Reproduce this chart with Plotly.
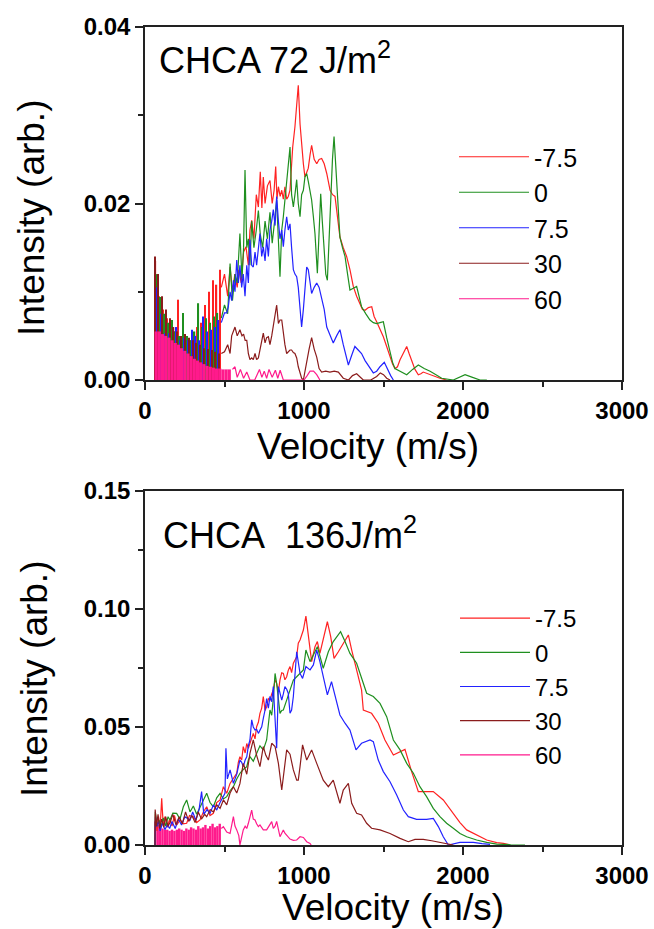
import plotly.graph_objects as go

# ---------------- data (velocity m/s, intensity in units of 1e-3 arb.) ----------------
SERIES = ["-7.5", "0", "7.5", "30", "60"]
COLORS = ["#ff2222", "#1f8f1f", "#2222ff", "#8b1c1c", "#ff1a8c"]

VEL_TICKS = [0, 1000, 2000, 3000]
VEL_MINOR = [500, 1500, 2500]
TOP_Y_TICKS = [0.0, 0.02, 0.04]
TOP_Y_LABELS = ["0.00", "0.02", "0.04"]
TOP_Y_MINOR = [0.01, 0.03]
BOT_Y_TICKS = [0.0, 0.05, 0.10, 0.15]
BOT_Y_LABELS = ["0.00", "0.05", "0.10", "0.15"]
BOT_Y_MINOR = [0.025, 0.075, 0.125]

# ---- top panel (72 J/m2): dense low-velocity spikes ----
T_RED_SPIKES = [(66, 13.5), (90, 9.5), (114, 8.0), (138, 7.0), (162, 6.5), (186, 5.5), (210, 9.1), (234, 5.0),
                (258, 4.8), (282, 4.5), (306, 5.2), (330, 6.0), (354, 6.5), (378, 8.5), (402, 10.0), (426, 11.3),
                (450, 10.8), (474, 12.5)]
T_GRN_SPIKES = [(72, 12.0), (96, 9.4), (120, 7.5), (144, 6.5), (168, 6.8), (192, 5.5), (216, 5.0), (240, 7.6),
                (264, 5.0), (288, 4.5), (312, 5.5), (336, 8.7), (360, 6.0), (384, 7.0), (408, 6.5), (432, 7.2),
                (456, 7.6)]
T_BLU_SPIKES = [(78, 10.5), (102, 7.5), (126, 5.3), (150, 5.3), (174, 5.3), (198, 6.0), (222, 4.5), (246, 4.8),
                (270, 4.5), (294, 5.7), (318, 5.0), (342, 4.5), (366, 7.2), (390, 5.5), (414, 5.7), (438, 6.0),
                (462, 6.8)]
T_MAR_SPIKES = [(63, 14.0), (84, 12.0), (108, 9.5), (132, 8.0), (156, 7.0), (180, 6.0), (204, 5.5), (228, 5.0),
                (252, 5.2), (276, 4.8), (300, 4.5), (324, 4.2), (348, 4.0), (372, 3.6), (396, 3.5), (420, 3.4),
                (444, 3.2), (468, 3.0)]
T_PNK_SPIKES = [(70, 5.5), (90, 5.5), (110, 5.2), (130, 5.0), (150, 4.8), (170, 4.5), (190, 4.2), (210, 4.0),
                (230, 3.6), (250, 3.3), (270, 3.0), (290, 2.7), (310, 2.4), (330, 2.2), (350, 2.0), (370, 1.8),
                (390, 1.6), (410, 1.5), (430, 1.4), (450, 1.3), (470, 1.3), (490, 1.2), (510, 1.2), (530, 1.2)]

# ---- top panel: resolved part ----
T_RED = [(480, 10.5), (500, 12.0), (520, 9.5), (535, 12.8), (550, 10.0), (565, 12.0), (580, 10.5), (590, 12.5),
         (605, 11.0), (620, 14.5), (635, 15.1), (650, 13.0), (660, 17.0), (671, 18.1), (685, 16.0), (700, 21.0),
         (713, 19.6), (725, 23.6), (735, 19.5), (744, 23.0), (755, 20.0), (770, 22.0), (786, 22.6), (800, 20.0),
         (812, 21.5), (822, 24.2), (830, 20.5), (839, 21.9), (850, 20.8), (860, 21.5), (870, 20.5), (880, 21.9),
         (891, 20.5), (901, 20.8), (912, 21.5), (922, 24.0), (929, 26.4), (943, 28.7), (954, 31.0), (964, 33.4),
         (975, 29.0), (985, 26.4), (996, 24.5), (1006, 23.0), (1017, 23.5), (1027, 24.0), (1038, 25.5),
         (1048, 26.6), (1064, 25.0), (1080, 24.5), (1095, 25.0), (1111, 25.1), (1127, 24.5), (1143, 23.4),
         (1164, 21.5), (1180, 21.0), (1195, 20.8), (1216, 18.1), (1226, 16.2), (1247, 15.0), (1268, 14.0),
         (1289, 12.5), (1310, 10.6), (1331, 9.5), (1352, 8.7), (1368, 8.0), (1384, 7.9), (1405, 8.2), (1426, 8.3),
         (1441, 7.2), (1457, 6.6), (1478, 5.8), (1499, 4.9), (1520, 3.8), (1541, 2.6), (1557, 1.8), (1572, 1.3),
         (1588, 1.5), (1604, 2.3), (1625, 3.0), (1646, 3.8), (1661, 3.0), (1677, 2.3), (1698, 1.2), (1719, 0.6),
         (1735, 0.7), (1750, 0.9), (1777, 0.7), (1803, 0.6), (1830, 0.4), (1855, 0.2), (1897, 0.0)]
T_GRN = [(480, 7.0), (500, 8.5), (520, 7.5), (535, 13.2), (550, 9.0), (566, 12.0), (580, 11.0), (597, 16.6),
         (610, 11.5), (620, 15.0), (629, 23.8), (640, 15.0), (650, 16.0), (660, 13.0), (671, 18.0), (685, 15.0),
         (700, 17.0), (713, 19.2), (725, 16.5), (740, 15.0), (755, 18.0), (770, 16.0), (786, 19.0), (800, 15.5),
         (815, 18.0), (828, 20.4), (849, 11.7), (860, 17.0), (870, 18.5), (880, 20.5), (891, 22.3), (901, 24.5),
         (912, 26.4), (922, 21.0), (933, 19.6), (943, 21.0), (954, 22.7), (964, 20.0), (975, 18.5), (985, 21.0),
         (996, 21.5), (1006, 23.0), (1017, 23.4), (1027, 22.5), (1038, 21.5), (1048, 20.4), (1059, 18.5),
         (1069, 16.6), (1084, 12.1), (1095, 17.0), (1105, 21.1), (1115, 18.0), (1126, 14.5), (1137, 12.0),
         (1147, 11.3), (1157, 16.0), (1168, 21.1), (1179, 25.0), (1189, 27.6), (1200, 24.0), (1210, 21.1),
         (1226, 16.2), (1242, 15.0), (1258, 14.0), (1274, 12.0), (1289, 10.2), (1310, 10.4), (1331, 10.6),
         (1346, 9.5), (1362, 8.3), (1389, 7.5), (1415, 6.8), (1436, 6.5), (1457, 6.4), (1478, 6.5), (1499, 6.6),
         (1520, 4.8), (1541, 3.0), (1557, 2.0), (1572, 1.3), (1610, 0.9), (1646, 0.6), (1683, 1.2), (1719, 1.7),
         (1756, 1.3), (1793, 1.0), (1830, 0.6), (1866, 0.2), (1939, 0.0), (1975, 0.3), (2013, 0.6), (2060, 0.3),
         (2107, 0.0), (2150, 0.0)]
T_BLU = [(480, 6.5), (500, 7.6), (514, 7.6), (524, 8.3), (535, 10.0), (545, 9.0), (556, 11.3), (566, 10.0),
         (577, 13.6), (587, 11.0), (597, 13.0), (608, 10.5), (618, 12.0), (629, 9.5), (640, 13.0), (650, 11.0),
         (660, 15.9), (671, 13.0), (681, 12.8), (692, 14.5), (702, 13.0), (713, 15.0), (723, 16.6), (734, 14.0),
         (744, 15.1), (755, 13.5), (765, 16.0), (776, 14.0), (786, 17.0), (797, 18.0), (807, 19.3), (818, 17.5),
         (828, 20.8), (839, 18.0), (849, 16.0), (860, 17.0), (870, 15.1), (880, 17.0), (891, 18.5), (901, 17.0),
         (912, 17.7), (922, 15.0), (933, 12.5), (943, 12.0), (954, 11.7), (964, 10.5), (975, 8.5), (985, 6.0),
         (996, 8.0), (1006, 10.2), (1017, 12.8), (1027, 12.5), (1038, 11.0), (1048, 9.8), (1064, 10.5),
         (1080, 11.0), (1095, 10.5), (1111, 9.4), (1127, 8.0), (1143, 6.0), (1164, 5.0), (1184, 4.2), (1205, 5.0),
         (1226, 5.7), (1247, 4.0), (1263, 2.8), (1279, 1.7), (1300, 2.8), (1320, 3.8), (1341, 3.4), (1362, 3.0),
         (1384, 2.2), (1410, 1.5), (1436, 0.8), (1457, 1.0), (1478, 1.5), (1505, 2.0), (1530, 1.0), (1545, 0.5),
         (1562, 0.0)]
T_MAR = [(480, 3.0), (500, 3.2), (520, 4.0), (535, 3.0), (545, 5.0), (566, 6.0), (580, 5.0), (597, 5.7),
         (610, 5.0), (620, 5.2), (630, 4.5), (640, 4.5), (650, 3.0), (660, 2.3), (671, 2.5), (681, 2.3), (692, 3.0),
         (702, 2.3), (713, 2.5), (723, 3.5), (734, 4.5), (744, 5.3), (755, 4.2), (765, 4.8), (776, 4.9), (786, 4.0),
         (797, 5.0), (807, 6.0), (818, 7.5), (828, 8.5), (839, 6.4), (849, 6.8), (860, 6.8), (870, 5.2), (880, 4.0),
         (891, 3.0), (901, 3.2), (912, 3.4), (922, 3.4), (933, 3.1), (943, 3.0), (954, 2.5), (964, 1.5), (975, 0.8),
         (985, 0.2), (996, 0.0), (1006, 1.0), (1017, 2.3), (1032, 3.5), (1048, 4.8), (1064, 3.5), (1080, 2.6),
         (1095, 1.3), (1111, 0.9), (1137, 1.0), (1163, 0.9), (1190, 1.0), (1216, 0.9), (1235, 0.4), (1247, 0.2),
         (1280, 0.0), (1305, 0.5), (1331, 0.7), (1352, 0.3), (1373, 0.0), (1420, 0.0), (1457, 0.4), (1480, 0.8),
         (1500, 0.6), (1520, 0.2), (1541, 0.0)]
T_PNK = [(550, 1.2), (566, 1.5), (580, 0.3), (600, 1.2), (620, 0.2), (640, 0.9), (660, 0.0), (690, 0.0),
         (705, 0.6), (720, 1.2), (735, 0.3), (750, 1.0), (765, 0.2), (780, 1.2), (800, 0.3), (820, 1.1), (835, 0.2),
         (850, 1.1), (870, 0.0), (1000, 0.0), (1020, 0.5), (1038, 1.0), (1060, 1.0), (1080, 0.6), (1100, 0.0)]

# ---- bottom panel (136 J/m2) ----
B_PNK_SPIKES = [(65, 10.0), (80, 8.5), (95, 7.5), (110, 7.0), (125, 6.5), (140, 6.5), (155, 6.0), (170, 6.5),
                (185, 6.0), (200, 6.5), (215, 7.0), (230, 6.5), (245, 6.0), (260, 7.0), (275, 6.5), (290, 7.5),
                (305, 7.0), (320, 6.5), (335, 8.0), (350, 7.0), (365, 7.5), (380, 8.5), (395, 7.0), (410, 8.0),
                (425, 9.0), (440, 7.5), (455, 8.0), (470, 9.0)]
B_RED = [(63, 0.0), (66, 13.0), (75, 6.0), (85, 12.0), (95, 7.0), (105, 19.8), (115, 8.0), (125, 12.0), (140, 7.5),
         (155, 11.0), (170, 8.0), (185, 12.5), (200, 8.5), (220, 10.6), (240, 9.0), (262, 9.2), (280, 12.5),
         (304, 12.0), (325, 9.5), (346, 10.6), (367, 14.0), (388, 16.2), (409, 12.5), (430, 13.4), (451, 18.0),
         (472, 19.1), (493, 24.7), (514, 21.9), (535, 26.1), (556, 28.5), (577, 30.4), (587, 35.0), (597, 37.4),
         (608, 36.0), (618, 41.7), (630, 39.0), (640, 43.0), (650, 41.0), (660, 43.1), (671, 46.0), (681, 47.3),
         (692, 45.0), (702, 50.1), (713, 52.0), (723, 55.8), (734, 58.0), (744, 62.9), (755, 57.0), (765, 58.6),
         (776, 62.0), (786, 61.4), (797, 64.0), (807, 65.7), (818, 70.0), (828, 68.5), (839, 65.0), (849, 70.0),
         (860, 73.0), (870, 72.7), (880, 70.0), (891, 71.3), (901, 74.0), (912, 75.6), (922, 73.0), (933, 77.0),
         (954, 79.8), (964, 85.5), (975, 86.9), (996, 91.1), (1012, 97.0), (1033, 85.5), (1048, 77.7), (1069, 84.0),
         (1084, 86.2), (1100, 81.2), (1121, 86.9), (1147, 94.6), (1168, 88.3), (1189, 79.1), (1216, 81.9),
         (1247, 85.5), (1279, 89.0), (1300, 82.6), (1331, 74.2), (1362, 65.7), (1373, 57.2), (1425, 55.8),
         (1467, 51.6), (1509, 44.5), (1562, 38.1), (1604, 39.5), (1635, 40.5), (1677, 31.1), (1719, 22.6),
         (1750, 22.6), (1813, 22.6), (1876, 19.1), (1939, 13.4), (1981, 9.5), (2023, 6.4), (2086, 4.2), (2149, 2.1),
         (2212, 1.0), (2254, 0.7), (2296, 0.0)]
B_GRN = [(63, 0.0), (65, 14.1), (75, 8.0), (88, 10.5), (100, 7.5), (115, 11.5), (130, 8.0), (145, 12.0),
         (157, 10.6), (175, 13.5), (199, 13.4), (220, 11.0), (241, 16.2), (262, 19.1), (283, 14.0), (304, 16.5),
         (325, 13.0), (346, 16.2), (367, 19.0), (388, 21.9), (409, 18.0), (430, 16.2), (451, 20.0), (472, 21.9),
         (493, 19.5), (514, 20.5), (535, 23.0), (556, 24.7), (577, 28.0), (597, 30.4), (618, 32.0), (640, 33.2),
         (650, 36.0), (660, 37.4), (681, 35.5), (702, 38.8), (723, 42.0), (744, 40.3), (765, 44.5), (786, 57.2),
         (797, 55.0), (807, 62.0), (818, 72.7), (828, 68.5), (839, 60.0), (849, 55.8), (860, 57.0), (870, 57.2),
         (891, 61.4), (912, 65.7), (933, 69.9), (954, 71.3), (975, 73.0), (996, 74.2), (1012, 82.6), (1038, 77.7),
         (1069, 81.9), (1084, 84.0), (1121, 74.9), (1153, 81.9), (1184, 86.2), (1230, 90.4), (1258, 86.2),
         (1289, 81.2), (1331, 77.0), (1373, 68.5), (1394, 64.3), (1436, 62.9), (1478, 60.0), (1520, 54.4),
         (1562, 44.5), (1604, 40.3), (1646, 34.6), (1688, 30.4), (1729, 24.7), (1771, 20.5), (1813, 15.5),
         (1855, 12.0), (1897, 9.2), (1939, 7.1), (1981, 4.9), (2023, 3.5), (2086, 2.1), (2149, 1.1), (2212, 0.4),
         (2300, 0.1), (2390, 0.0)]
B_BLU = [(63, 0.0), (66, 12.0), (73, 7.8), (85, 10.0), (95, 6.0), (110, 9.5), (125, 6.5), (140, 8.5), (155, 7.0),
         (170, 10.0), (190, 7.0), (210, 11.0), (230, 8.5), (250, 12.0), (283, 10.6), (300, 14.0), (320, 10.5),
         (340, 15.0), (356, 22.6), (370, 13.0), (390, 15.0), (409, 13.4), (430, 17.0), (451, 14.8), (472, 18.0),
         (482, 19.1), (503, 21.9), (509, 41.0), (518, 28.0), (535, 31.8), (545, 29.0), (556, 26.1), (577, 30.0),
         (597, 36.0), (608, 35.0), (618, 33.2), (630, 36.0), (640, 37.4), (650, 42.0), (660, 44.5), (671, 53.0),
         (681, 50.0), (692, 48.7), (702, 49.0), (713, 47.3), (723, 49.0), (734, 50.1), (745, 54.0), (755, 57.2),
         (765, 62.0), (776, 58.0), (786, 63.0), (797, 60.7), (807, 67.1), (818, 55.0), (828, 41.0), (839, 67.1),
         (849, 64.0), (860, 61.4), (870, 64.0), (880, 67.1), (891, 66.0), (901, 64.3), (912, 55.8), (922, 57.2),
         (933, 62.9), (954, 81.9), (975, 72.7), (991, 70.6), (1012, 75.6), (1038, 74.2), (1059, 76.3), (1080, 82.6),
         (1100, 77.7), (1121, 71.3), (1147, 63.6), (1173, 69.2), (1195, 62.9), (1226, 55.1), (1258, 51.6),
         (1289, 48.7), (1327, 40.3), (1362, 43.1), (1415, 44.5), (1436, 43.8), (1467, 36.0), (1499, 31.1),
         (1541, 26.8), (1583, 21.2), (1625, 14.8), (1656, 12.0), (1708, 10.9), (1771, 10.9), (1813, 11.3),
         (1845, 7.8), (1876, 3.5), (1908, 0.0), (1981, 1.1), (2065, 1.1), (2120, 0.6), (2170, 0.3)]
B_MAR = [(63, 0.0), (64, 15.0), (72, 8.0), (82, 13.0), (92, 7.0), (105, 11.0), (118, 7.5), (130, 12.0), (145, 8.0),
         (160, 10.0), (175, 13.0), (195, 8.5), (215, 12.0), (235, 9.0), (255, 14.0), (275, 10.0), (295, 12.5),
         (315, 9.5), (335, 14.0), (355, 11.0), (375, 13.0), (388, 12.0), (410, 15.0), (430, 14.0), (451, 17.0),
         (472, 15.5), (493, 19.1), (514, 17.0), (535, 22.0), (556, 24.7), (577, 22.0), (597, 26.0), (618, 34.6),
         (640, 30.0), (660, 38.8), (681, 44.5), (702, 38.0), (723, 33.2), (744, 41.7), (760, 38.0), (776, 36.0),
         (797, 43.1), (818, 41.7), (839, 34.6), (860, 23.3), (874, 31.8), (891, 40.3), (912, 38.5), (933, 31.8),
         (954, 27.5), (964, 27.5), (975, 33.2), (991, 42.4), (1017, 36.0), (1048, 40.3), (1080, 34.6), (1121, 27.5),
         (1153, 24.7), (1184, 27.5), (1226, 17.7), (1247, 23.3), (1279, 26.1), (1300, 17.7), (1331, 13.4),
         (1362, 12.7), (1394, 9.2), (1425, 7.1), (1478, 6.4), (1541, 4.9), (1604, 2.8), (1656, 1.4), (1698, 2.4),
         (1750, 2.4), (1803, 1.8), (1855, 1.0), (1897, 0.4), (1939, 0.0)]
B_PNK = [(480, 7.0), (493, 7.8), (514, 5.5), (535, 4.9), (556, 12.0), (566, 8.0), (577, 6.4), (590, 4.0),
         (597, 0.0), (608, 4.0), (618, 6.4), (630, 8.0), (640, 7.0), (650, 9.2), (660, 12.0), (671, 14.8),
         (681, 11.0), (692, 10.6), (702, 9.0), (713, 7.8), (723, 8.5), (744, 6.4), (765, 6.4), (780, 8.0),
         (797, 9.9), (807, 7.0), (818, 8.0), (828, 10.0), (839, 6.0), (849, 3.5), (860, 5.0), (870, 6.4), (880, 5.0),
         (891, 4.2), (912, 2.5), (933, 2.0), (954, 2.1), (975, 3.5), (996, 3.2), (1017, 1.4), (1038, 0.7),
         (1045, 0.0)]

TOP_LINES = [T_RED, T_GRN, T_BLU, T_MAR, T_PNK]
TOP_SPIKES = [T_RED_SPIKES, T_GRN_SPIKES, T_BLU_SPIKES, T_MAR_SPIKES, T_PNK_SPIKES]
BOT_LINES = [B_RED, B_GRN, B_BLU, B_MAR, B_PNK]
BOT_SPIKES = [None, None, None, None, B_PNK_SPIKES]


def vx(pairs):
    return [p[0] for p in pairs]


def iy(pairs):
    return [p[1] / 1000.0 for p in pairs]


FONT = "Liberation Sans, Arial, sans-serif"
W, H = 654, 929

fig = go.Figure()

for k, (spk, col) in enumerate(zip(TOP_SPIKES, COLORS)):
    fig.add_trace(go.Bar(x=vx(spk), y=iy(spk), width=20 if k == 4 else 8, marker=dict(color=col, line_width=0),
                         showlegend=False, hoverinfo="skip", xaxis="x", yaxis="y", legend="legend"))
for k, (spk, col) in enumerate(zip(BOT_SPIKES, COLORS)):
    if spk is None:
        continue
    fig.add_trace(go.Bar(x=vx(spk), y=iy(spk), width=15, marker=dict(color=col, line_width=0),
                         showlegend=False, hoverinfo="skip", xaxis="x2", yaxis="y2", legend="legend2"))

for name, pts, col in zip(SERIES, TOP_LINES, COLORS):
    fig.add_trace(go.Scatter(x=vx(pts), y=iy(pts), mode="lines", name=name, line=dict(color=col, width=1.2),
                             legend="legend", legendgroup="t" + name, xaxis="x", yaxis="y"))
for name, pts, col in zip(SERIES, BOT_LINES, COLORS):
    fig.add_trace(go.Scatter(x=vx(pts), y=iy(pts), mode="lines", name=name, line=dict(color=col, width=1.2),
                             legend="legend2", legendgroup="b" + name, xaxis="x2", yaxis="y2"))

XD = [145 / W, 622 / W]
axis_common = dict(showline=True, linecolor="#222", linewidth=1.5, mirror=True, ticks="outside", ticklen=8,
                   tickwidth=1.5, tickcolor="#222", showgrid=False, zeroline=False, automargin=False,
                   tickfont=dict(family=FONT, size=24, color="black", weight="bold"))

fig.update_layout(
    width=W, height=H, margin=dict(l=0, r=0, t=0, b=0, autoexpand=False),
    paper_bgcolor="white", plot_bgcolor="white", barmode="overlay",
    font=dict(family=FONT, color="black"),
    xaxis=dict(domain=XD, anchor="y", range=[0, 3000], tickvals=VEL_TICKS,
               minor=dict(tickvals=VEL_MINOR, ticklen=5, ticks="outside", tickcolor="#222"), **axis_common),
    yaxis=dict(domain=[1 - 380 / H, 1 - 27 / H], anchor="x", range=[0, 0.04], tickvals=TOP_Y_TICKS,
               ticktext=TOP_Y_LABELS, minor=dict(tickvals=TOP_Y_MINOR, ticklen=5, ticks="outside", tickcolor="#222"),
               **axis_common),
    xaxis2=dict(domain=XD, anchor="y2", range=[0, 3000], tickvals=VEL_TICKS,
                minor=dict(tickvals=VEL_MINOR, ticklen=5, ticks="outside", tickcolor="#222"), **axis_common),
    yaxis2=dict(domain=[1 - 845 / H, 1 - 491 / H], anchor="x2", range=[0, 0.15], tickvals=BOT_Y_TICKS,
                ticktext=BOT_Y_LABELS, minor=dict(tickvals=BOT_Y_MINOR, ticklen=5, ticks="outside", tickcolor="#222"),
                **axis_common),
    legend=dict(x=454 / W, y=1 - 134 / H, xanchor="left", yanchor="top", bgcolor="rgba(0,0,0,0)",
                font=dict(family=FONT, size=25, color="black"), tracegroupgap=0, itemwidth=70),
    legend2=dict(x=455 / W, y=1 - 596 / H, xanchor="left", yanchor="top", bgcolor="rgba(0,0,0,0)",
                 font=dict(family=FONT, size=24, color="black"), tracegroupgap=0, itemwidth=70),
    annotations=[
        dict(text="CHCA 72 J/m<sup>2</sup>", x=157 / W, y=1 - 58 / H, xref="paper", yref="paper", xanchor="left",
             yanchor="middle", showarrow=False, font=dict(family=FONT, size=36, color="black")),
        dict(text="CHCA&nbsp; 136J/m<sup>2</sup>", x=161 / W, y=1 - 533 / H, xref="paper", yref="paper",
             xanchor="left", yanchor="middle", showarrow=False, font=dict(family=FONT, size=36, color="black")),
        dict(text="Velocity (m/s)", x=368 / W, y=1 - 446 / H, xref="paper", yref="paper", xanchor="center",
             yanchor="middle", showarrow=False, font=dict(family=FONT, size=37, color="black")),
        dict(text="Velocity (m/s)", x=393 / W, y=1 - 907 / H, xref="paper", yref="paper", xanchor="center",
             yanchor="middle", showarrow=False, font=dict(family=FONT, size=37, color="black")),
        dict(text="Intensity (arb.)", x=32 / W, y=1 - 218 / H, xref="paper", yref="paper", xanchor="center",
             yanchor="middle", textangle=-90, showarrow=False, font=dict(family=FONT, size=37, color="black")),
        dict(text="Intensity (arb.)", x=34 / W, y=1 - 679 / H, xref="paper", yref="paper", xanchor="center",
             yanchor="middle", textangle=-90, showarrow=False, font=dict(family=FONT, size=37, color="black")),
    ],
)

fig.write_html("out.html", config={"displayModeBar": False},
               post_script="document.body.style.margin='0';document.body.style.overflow='hidden';")
